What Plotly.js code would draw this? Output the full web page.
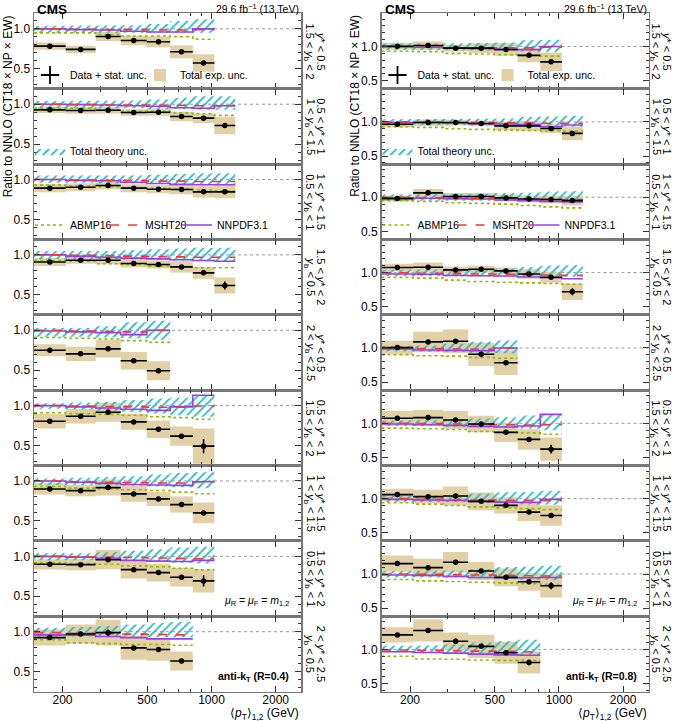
<!DOCTYPE html>
<html><head><meta charset="utf-8">
<script src="https://cdn.plot.ly/plotly-3.0.1.min.js"></script>
<style>html,body{margin:0;padding:0;background:#fff}#plot{width:674px;height:721px}</style>
</head><body><div id="plot"></div>
<script>
// ---------- data ----------
const binEdges = [147, 207, 286, 375, 497, 640, 817, 1032, 1293];
const xTickVals = [200, 500, 1000, 2000];
const xTickText = ['200', '500', '1000', '2000'];
const xMinorVals = [300, 400, 600, 700, 800, 900];
const ystarLabels = ['<i>y</i>* < 0.5', '0.5 < <i>y</i>* < 1', '1 < <i>y</i>* < 1.5', '1.5 < <i>y</i>* < 2',
  '<i>y</i>* < 0.5', '0.5 < <i>y</i>* < 1', '1 < <i>y</i>* < 1.5', '1.5 < <i>y</i>* < 2', '2 < <i>y</i>* < 2.5'];
const ybLabels = ['1.5 < <i>y</i><sub>b</sub> < 2', '1 < <i>y</i><sub>b</sub> < 1.5', '0.5 < <i>y</i><sub>b</sub> < 1', '<i>y</i><sub>b</sub> < 0.5',
  '2 < <i>y</i><sub>b</sub> < 2.5', '1.5 < <i>y</i><sub>b</sub> < 2', '1 < <i>y</i><sub>b</sub> < 1.5', '0.5 < <i>y</i><sub>b</sub> < 1', '<i>y</i><sub>b</sub> < 0.5'];
const legendNames = ['Data + stat. unc.', 'Total exp. unc.', 'Total theory unc.', 'ABMP16', 'MSHT20', 'NNPDF3.1'];

// anti-kT R=0.4 (left column)
const ratioR04 = [
  [0.783, 0.742, 0.904, 0.854, 0.838, 0.712, 0.571],
  [0.929, 0.921, 0.925, 0.896, 0.900, 0.846, 0.825, 0.733],
  [0.892, 0.904, 0.925, 0.892, 0.879, 0.875, 0.846, 0.846],
  [0.912, 0.933, 0.933, 0.892, 0.879, 0.850, 0.775, 0.617],
  [0.750, 0.704, 0.767, 0.617, 0.492],
  [0.804, 0.867, 0.917, 0.796, 0.704, 0.617, 0.492],
  [0.900, 0.879, 0.917, 0.838, 0.775, 0.704, 0.600],
  [0.900, 0.896, 0.958, 0.833, 0.796, 0.738, 0.692],
  [0.926, 0.971, 0.988, 0.797, 0.777, 0.632]
];
const statR04 = [
  [0.005, 0.005, 0.005, 0.006, 0.008, 0.010, 0.015],
  [0.004, 0.004, 0.004, 0.005, 0.006, 0.008, 0.010, 0.020],
  [0.004, 0.004, 0.005, 0.005, 0.006, 0.008, 0.010, 0.015],
  [0.005, 0.005, 0.005, 0.006, 0.008, 0.010, 0.015, 0.050],
  [0.005, 0.006, 0.008, 0.010, 0.015],
  [0.005, 0.005, 0.006, 0.008, 0.010, 0.015, 0.090],
  [0.005, 0.005, 0.006, 0.008, 0.010, 0.015, 0.030],
  [0.005, 0.005, 0.006, 0.008, 0.010, 0.015, 0.070],
  [0.010, 0.010, 0.040, 0.015, 0.015, 0.030]
];
const expR04 = [
  [0.045, 0.045, 0.055, 0.060, 0.070, 0.080, 0.110],
  [0.040, 0.040, 0.040, 0.040, 0.045, 0.060, 0.060, 0.110],
  [0.050, 0.050, 0.050, 0.050, 0.050, 0.060, 0.070, 0.080],
  [0.050, 0.045, 0.050, 0.050, 0.050, 0.070, 0.075, 0.100],
  [0.075, 0.090, 0.110, 0.110, 0.120],
  [0.090, 0.090, 0.120, 0.100, 0.110, 0.120, 0.220],
  [0.070, 0.070, 0.100, 0.100, 0.090, 0.100, 0.130],
  [0.065, 0.070, 0.120, 0.110, 0.110, 0.115, 0.145],
  [0.100, 0.120, 0.160, 0.150, 0.140, 0.120]
];
const thUpR04 = [
  [0.040, 0.040, 0.040, 0.045, 0.060, 0.100, 0.120],
  [0.040, 0.040, 0.040, 0.045, 0.060, 0.080, 0.100, 0.100],
  [0.050, 0.050, 0.050, 0.050, 0.060, 0.070, 0.080, 0.080],
  [0.050, 0.050, 0.050, 0.060, 0.070, 0.080, 0.090, 0.090],
  [0.030, 0.030, 0.050, 0.100, 0.120],
  [0.030, 0.040, 0.050, 0.070, 0.090, 0.100, 0.120],
  [0.030, 0.040, 0.050, 0.060, 0.080, 0.100, 0.110],
  [0.040, 0.040, 0.050, 0.070, 0.090, 0.110, 0.120],
  [0.050, 0.060, 0.070, 0.090, 0.110, 0.120]
];
const thDnR04 = [
  [0.050, 0.050, 0.050, 0.050, 0.050, 0.050, 0.050],
  [0.050, 0.050, 0.050, 0.050, 0.060, 0.060, 0.070, 0.070],
  [0.040, 0.040, 0.050, 0.050, 0.050, 0.060, 0.070, 0.070],
  [0.050, 0.050, 0.050, 0.060, 0.060, 0.070, 0.080, 0.080],
  [0.080, 0.080, 0.090, 0.100, 0.120],
  [0.040, 0.050, 0.060, 0.080, 0.100, 0.120, 0.140],
  [0.050, 0.050, 0.050, 0.060, 0.070, 0.080, 0.090],
  [0.050, 0.050, 0.050, 0.060, 0.070, 0.080, 0.090],
  [0.060, 0.060, 0.060, 0.060, 0.070, 0.070]
];
const abmpR04 = [
  [0.950, 0.950, 0.930, 0.910, 0.910, 0.900, 0.870],
  [0.950, 0.950, 0.930, 0.910, 0.910, 0.890, 0.880, 0.860],
  [0.930, 0.920, 0.910, 0.900, 0.890, 0.880, 0.870, 0.860],
  [0.930, 0.920, 0.890, 0.880, 0.860, 0.850, 0.840, 0.840],
  [0.910, 0.900, 0.890, 0.870, 0.850],
  [0.910, 0.900, 0.890, 0.880, 0.860, 0.850, 0.830],
  [0.930, 0.910, 0.900, 0.890, 0.880, 0.860, 0.840],
  [0.920, 0.910, 0.900, 0.880, 0.870, 0.850, 0.830],
  [0.900, 0.860, 0.850, 0.840, 0.840, 0.830]
];
const mshtR04 = [
  [1.000, 0.995, 0.990, 0.990, 0.985, 0.985, 0.990],
  [1.000, 0.995, 0.990, 0.990, 0.985, 0.985, 0.980, 0.980],
  [1.000, 0.995, 0.990, 0.985, 0.980, 0.980, 0.975, 0.975],
  [1.000, 0.995, 0.990, 0.985, 0.980, 0.975, 0.970, 0.970],
  [1.000, 0.990, 0.985, 0.980, 1.000],
  [1.000, 0.995, 0.990, 0.985, 0.980, 0.980, 0.995],
  [1.000, 0.990, 0.985, 0.980, 0.975, 0.975, 0.990],
  [1.000, 0.995, 0.990, 0.985, 0.980, 0.975, 0.970],
  [0.990, 0.980, 0.975, 0.970, 0.965, 0.960]
];
const nnpdfR04 = [
  [1.000, 0.990, 0.985, 0.970, 0.960, 0.960, 1.000],
  [1.000, 0.995, 0.990, 0.980, 0.975, 0.955, 0.950, 0.980],
  [1.000, 0.990, 0.985, 0.967, 0.950, 0.940, 0.935, 0.935],
  [1.000, 0.985, 0.970, 0.960, 0.950, 0.940, 0.930, 0.920],
  [0.990, 0.980, 0.970, 0.946, 1.000],
  [1.000, 0.985, 0.970, 0.955, 0.940, 0.985, 1.130],
  [1.000, 0.985, 0.970, 0.955, 0.950, 0.945, 0.990],
  [1.000, 0.990, 0.975, 0.950, 0.940, 0.935, 0.950],
  [0.960, 0.955, 0.940, 0.925, 0.910, 0.910]
];

// anti-kT R=0.8 (right column)
const ratioR08 = [
  [1.005, 1.014, 0.976, 0.976, 0.957, 0.871, 0.776],
  [0.966, 0.990, 0.990, 0.976, 0.942, 0.942, 0.904, 0.832],
  [0.980, 1.064, 1.010, 1.010, 0.990, 0.975, 0.966, 0.951],
  [1.074, 1.078, 1.039, 1.049, 1.025, 0.980, 0.931, 0.720],
  [1.005, 1.088, 1.098, 0.907, 0.784],
  [1.074, 1.083, 1.049, 0.990, 0.868, 0.765, 0.623],
  [1.059, 1.029, 1.039, 0.961, 0.902, 0.804, 0.755],
  [1.152, 1.093, 1.172, 1.044, 0.951, 0.887, 0.828],
  [1.211, 1.275, 1.118, 1.044, 0.951, 0.809]
];
const statR08 = [
  [0.005, 0.005, 0.005, 0.006, 0.008, 0.010, 0.015],
  [0.004, 0.004, 0.004, 0.005, 0.006, 0.008, 0.010, 0.020],
  [0.004, 0.004, 0.005, 0.005, 0.006, 0.008, 0.010, 0.015],
  [0.005, 0.005, 0.005, 0.006, 0.008, 0.010, 0.015, 0.050],
  [0.006, 0.008, 0.010, 0.012, 0.015],
  [0.005, 0.005, 0.006, 0.008, 0.010, 0.015, 0.065],
  [0.005, 0.005, 0.006, 0.008, 0.010, 0.015, 0.030],
  [0.006, 0.006, 0.008, 0.010, 0.012, 0.015, 0.050],
  [0.010, 0.010, 0.040, 0.015, 0.015, 0.040]
];
const expR08 = [
  [0.050, 0.060, 0.050, 0.070, 0.090, 0.100, 0.135],
  [0.045, 0.045, 0.040, 0.040, 0.060, 0.070, 0.070, 0.100],
  [0.040, 0.055, 0.050, 0.050, 0.050, 0.050, 0.055, 0.070],
  [0.055, 0.070, 0.050, 0.050, 0.050, 0.070, 0.080, 0.120],
  [0.100, 0.150, 0.170, 0.170, 0.180],
  [0.110, 0.110, 0.130, 0.120, 0.140, 0.150, 0.170],
  [0.085, 0.100, 0.140, 0.130, 0.120, 0.130, 0.150],
  [0.120, 0.130, 0.150, 0.130, 0.130, 0.130, 0.170],
  [0.110, 0.160, 0.130, 0.170, 0.160, 0.160]
];
const thUpR08 = [
  [0.040, 0.040, 0.040, 0.050, 0.060, 0.090, 0.100],
  [0.040, 0.040, 0.040, 0.040, 0.050, 0.070, 0.080, 0.090],
  [0.040, 0.040, 0.040, 0.050, 0.060, 0.070, 0.080, 0.090],
  [0.040, 0.040, 0.040, 0.050, 0.060, 0.080, 0.100, 0.110],
  [0.030, 0.040, 0.060, 0.090, 0.110],
  [0.040, 0.040, 0.050, 0.070, 0.090, 0.110, 0.120],
  [0.040, 0.040, 0.050, 0.070, 0.090, 0.100, 0.110],
  [0.040, 0.040, 0.050, 0.070, 0.100, 0.110, 0.120],
  [0.050, 0.060, 0.070, 0.100, 0.120, 0.140]
];
const thDnR08 = [
  [0.050, 0.050, 0.050, 0.050, 0.060, 0.070, 0.080],
  [0.050, 0.050, 0.050, 0.050, 0.060, 0.060, 0.070, 0.070],
  [0.050, 0.050, 0.050, 0.050, 0.050, 0.060, 0.060, 0.070],
  [0.050, 0.050, 0.050, 0.050, 0.050, 0.050, 0.050, 0.060],
  [0.050, 0.050, 0.060, 0.070, 0.080],
  [0.040, 0.040, 0.050, 0.060, 0.070, 0.080, 0.100],
  [0.050, 0.050, 0.050, 0.060, 0.070, 0.080, 0.090],
  [0.050, 0.050, 0.050, 0.060, 0.070, 0.080, 0.090],
  [0.040, 0.050, 0.060, 0.070, 0.080, 0.090]
];
const abmpR08 = [
  [0.930, 0.925, 0.900, 0.890, 0.880, 0.870, 0.860],
  [0.930, 0.920, 0.900, 0.890, 0.880, 0.875, 0.870, 0.865],
  [0.950, 0.940, 0.920, 0.910, 0.900, 0.880, 0.860, 0.845],
  [0.930, 0.920, 0.890, 0.870, 0.860, 0.850, 0.840, 0.830],
  [0.900, 0.885, 0.880, 0.860, 0.850],
  [0.930, 0.920, 0.910, 0.880, 0.870, 0.860, 0.840],
  [0.940, 0.920, 0.900, 0.880, 0.865, 0.855, 0.840],
  [0.920, 0.900, 0.890, 0.880, 0.870, 0.860, 0.850],
  [0.900, 0.860, 0.855, 0.845, 0.840, 0.840]
];
const mshtR08 = [
  [1.000, 0.990, 0.985, 0.980, 0.980, 0.980, 0.990],
  [1.000, 0.995, 0.990, 0.990, 0.985, 0.985, 0.980, 0.980],
  [1.000, 0.995, 0.990, 0.985, 0.980, 0.975, 0.970, 0.965],
  [1.000, 0.990, 0.985, 0.980, 0.975, 0.970, 0.965, 0.960],
  [1.000, 0.990, 0.985, 0.980, 1.000],
  [1.000, 0.995, 0.990, 0.985, 0.980, 0.975, 0.980],
  [1.000, 0.990, 0.985, 0.980, 0.975, 0.975, 0.975],
  [1.000, 0.995, 0.990, 0.985, 0.980, 0.975, 0.970],
  [0.990, 0.985, 0.980, 0.975, 0.970, 0.965]
];
const nnpdfR08 = [
  [0.995, 0.990, 0.980, 0.970, 0.955, 0.955, 1.000],
  [0.990, 0.990, 0.985, 0.975, 0.970, 0.960, 0.930, 0.955],
  [0.990, 0.985, 0.980, 0.975, 0.960, 0.950, 0.940, 0.930],
  [0.980, 0.975, 0.960, 0.955, 0.950, 0.935, 0.925, 0.910],
  [0.985, 0.970, 0.965, 0.960, 1.000],
  [0.990, 0.980, 0.970, 0.955, 0.945, 0.960, 1.130],
  [0.990, 0.980, 0.975, 0.960, 0.950, 0.945, 0.990],
  [0.985, 0.980, 0.965, 0.950, 0.945, 0.945, 0.950],
  [0.965, 0.955, 0.945, 0.930, 0.920, 0.915]
];

// ---------- styling / layout ----------
const W = 674, H = 721, TOP = 13.3, BOT = 691.5, PH = (BOT - TOP) / 9;
const FONT = 'Liberation Sans, Arial, Helvetica, sans-serif';
const TAN = '#e2d0a6', CYAN = '#22b8c8', GREEN = '#8fba00', RED = '#ff3333', PURPLE = '#9a3df0';
const columns = [
  {x0: 34, x1: 301, yr: [0.25, 1.195], ratio: ratioR04, stat: statR04, exp: expR04, up: thUpR04, dn: thDnR04,
   abmp: abmpR04, msht: mshtR04, nnpdf: nnpdfR04, jet: '<b>anti-k<sub>T</sub> (R=0.4)</b>', lab1: 20, lab2: 8.5},
  {x0: 381.5, x1: 648.5, yr: [0.385, 1.485], ratio: ratioR08, stat: statR08, exp: expR08, up: thUpR08, dn: thDnR08,
   abmp: abmpR08, msht: mshtR08, nnpdf: nnpdfR08, jet: '<b>anti-k<sub>T</sub> (R=0.8)</b>', lab1: 18.5, lab2: 7}
];
// legend entry text positions relative to the panel's left edge (px) and row centre (px)
const legendSlots = [[36, 75], [146, 75], [36, 151], [36, 225], [111, 225], [183, 225]];

const traces = [];
const layout = {
  width: W, height: H, margin: {l: 0, r: 0, t: 0, b: 0, autoexpand: false},
  paper_bgcolor: '#fff', plot_bgcolor: '#fff', showlegend: true,
  font: {family: FONT, color: '#000', size: 12},
  annotations: [], shapes: []
};

function stepXY(vals) {
  const n = vals.length;
  return {x: binEdges.slice(0, n + 1), y: vals.concat([vals[n - 1]])};
}

columns.forEach((col, c) => {
  for (let r = 0; r < 9; r++) {
    const idx = c * 9 + r + 1;
    const xs = 'x' + idx, ys = 'y' + idx;
    const xk = 'xaxis' + (idx === 1 ? '' : idx), yk = 'yaxis' + (idx === 1 ? '' : idx);
    const yTopPx = TOP + PH * r, yBotPx = TOP + PH * (r + 1);
    layout[xk] = {
      type: 'log', range: [Math.log10(147), Math.log10(2630)], domain: [col.x0 / W, col.x1 / W], anchor: ys,
      tickmode: 'array', tickvals: xTickVals, ticktext: xTickText, showticklabels: r === 8,
      ticks: 'inside', ticklen: 6, tickcolor: '#333', tickwidth: 1, ticklabelstandoff: -3,
      minor: {tickmode: 'array', tickvals: xMinorVals, ticks: 'inside', ticklen: 3, tickcolor: '#333'},
      showline: true, linecolor: '#777', linewidth: 1.5, mirror: 'allticks',
      showgrid: false, zeroline: false, tickfont: {size: 12, family: FONT}, fixedrange: true
    };
    layout[yk] = {
      range: col.yr, domain: [1 - yBotPx / H, 1 - yTopPx / H], anchor: xs,
      tickmode: 'linear', tick0: 0, dtick: 0.5, tickformat: '.1f',
      ticks: 'inside', ticklen: 6, tickcolor: '#333',
      minor: {dtick: 0.1, ticks: 'inside', ticklen: 3, tickcolor: '#333'},
      showline: true, linecolor: '#777', linewidth: 1.5, mirror: 'allticks',
      showgrid: false, zeroline: false, tickfont: {size: 12, family: FONT}, fixedrange: true
    };
    // reference line at 1
    layout.shapes.push({type: 'line', xref: xs + ' domain', yref: ys, x0: 0, x1: 1, y0: 1, y1: 1,
      line: {color: '#999', width: 1, dash: 'dot'}, layer: 'below'});

    const vals = col.ratio[r], n = vals.length;
    // total exp. unc. boxes
    const bx = [], by = [];
    for (let i = 0; i < n; i++) {
      const lo = binEdges[i], hi = binEdges[i + 1], e = col.exp[r][i];
      bx.push(lo, hi, hi, lo, lo, null);
      by.push(vals[i] - e, vals[i] - e, vals[i] + e, vals[i] + e, vals[i] - e, null);
    }
    traces.push({x: bx, y: by, xaxis: xs, yaxis: ys, type: 'scatter', mode: 'lines', fill: 'toself',
      fillcolor: TAN, line: {width: 0}, showlegend: false, hoverinfo: 'skip'});
    // theory band (hatched)
    const tx = [], ty = [];
    for (let i = 0; i < n; i++) { tx.push(binEdges[i], binEdges[i + 1]); ty.push(1 + col.up[r][i], 1 + col.up[r][i]); }
    for (let i = n - 1; i >= 0; i--) { tx.push(binEdges[i + 1], binEdges[i]); ty.push(1 - col.dn[r][i], 1 - col.dn[r][i]); }
    traces.push({x: tx, y: ty, xaxis: xs, yaxis: ys, type: 'scatter', mode: 'lines', fill: 'toself',
      fillcolor: 'rgba(0,0,0,0)', fillpattern: {shape: '/', fgcolor: CYAN, bgcolor: 'rgba(0,0,0,0)', size: 6, solidity: 0.3},
      line: {width: 0}, showlegend: false, hoverinfo: 'skip'});
    // PDF alternatives
    const a = stepXY(col.abmp[r]), m = stepXY(col.msht[r]), p = stepXY(col.nnpdf[r]);
    traces.push({x: a.x, y: a.y, xaxis: xs, yaxis: ys, mode: 'lines', line: {shape: 'hv', color: GREEN, width: 1.6, dash: 'dot'}, showlegend: false, hoverinfo: 'skip'});
    traces.push({x: p.x, y: p.y, xaxis: xs, yaxis: ys, mode: 'lines', line: {shape: 'hv', color: PURPLE, width: 1.6}, showlegend: false, hoverinfo: 'skip'});
    traces.push({x: m.x, y: m.y, xaxis: xs, yaxis: ys, mode: 'lines', line: {shape: 'hv', color: RED, width: 1.6, dash: 'dash'}, showlegend: false, hoverinfo: 'skip'});
    // data
    const cx = [], ep = [], em = [];
    for (let i = 0; i < n; i++) {
      const lo = binEdges[i], hi = binEdges[i + 1], ctr = Math.sqrt(lo * hi);
      cx.push(ctr); ep.push(hi - ctr); em.push(ctr - lo);
    }
    traces.push({x: cx, y: vals, xaxis: xs, yaxis: ys, mode: 'markers', marker: {color: '#000', size: 5.5},
      error_x: {type: 'data', symmetric: false, array: ep, arrayminus: em, width: 0, thickness: 1.6, color: '#000'},
      error_y: {type: 'data', array: col.stat[r], width: 0, thickness: 1.6, color: '#000'},
      showlegend: false, hoverinfo: 'skip'});

    // side labels (two rotated lines)
    const yc = 1 - (yTopPx + PH / 2) / H;
    layout.annotations.push({xref: 'paper', yref: 'paper', x: (col.x1 + col.lab1) / W, y: yc,
      text: ystarLabels[r], textangle: 90, showarrow: false, xanchor: 'center', yanchor: 'middle', font: {size: 11, family: FONT}});
    layout.annotations.push({xref: 'paper', yref: 'paper', x: (col.x1 + col.lab2) / W, y: yc,
      text: ybLabels[r], textangle: 90, showarrow: false, xanchor: 'center', yanchor: 'middle', font: {size: 11, family: FONT}});
  }
  // legends: one dummy entry per legend box
  const ax1 = 'x' + (c * 9 + 1), ay1 = 'y' + (c * 9 + 1);
  const entryStyles = [
    {mode: 'markers', marker: {symbol: 'cross-thin', size: 13, color: '#000', line: {width: 1.8, color: '#000'}}},
    {mode: 'markers', marker: {symbol: 'square', size: 12, color: TAN, line: {width: 0}}},
    {mode: 'lines', fill: 'toself', fillcolor: 'rgba(0,0,0,0)', fillpattern: {shape: '/', fgcolor: CYAN, bgcolor: 'rgba(0,0,0,0)', size: 6, solidity: 0.3}, line: {width: 0}},
    {mode: 'lines', line: {color: GREEN, width: 1.6, dash: 'dot'}},
    {mode: 'lines', line: {color: RED, width: 1.6, dash: 'dash'}},
    {mode: 'lines', line: {color: PURPLE, width: 1.6}}
  ];
  legendNames.forEach((nm, k) => {
    const L = c * 6 + k + 1;
    const lname = 'legend' + (L === 1 ? '' : L);
    traces.push(Object.assign({x: [null], y: [null], xaxis: ax1, yaxis: ay1, name: nm, legend: lname, showlegend: true}, entryStyles[k]));
    layout[lname] = {orientation: 'h', bgcolor: 'rgba(0,0,0,0)', borderwidth: 0, xref: 'paper', yref: 'paper',
      xanchor: 'left', yanchor: 'middle', x: (col.x0 + legendSlots[k][0] - 40) / W, y: 1 - legendSlots[k][1] / H,
      font: {size: 10.5, family: FONT}, itemclick: false, itemdoubleclick: false, itemwidth: 30};
  });

  // header texts
  layout.annotations.push({xref: 'paper', yref: 'paper', x: (col.x0 + 1) / W, y: 1, xanchor: 'left', yanchor: 'top',
    text: '<b>CMS</b>', showarrow: false, font: {size: 13.5, family: FONT}});
  layout.annotations.push({xref: 'paper', yref: 'paper', x: col.x1 / W, y: 1, xanchor: 'right', yanchor: 'top',
    text: '29.6 fb<sup>−1</sup> (13 TeV)', showarrow: false, font: {size: 10.5, family: FONT}});
  // axis titles
  layout.annotations.push({xref: 'paper', yref: 'paper', x: (col.x0 - 26) / W, y: 1 - TOP / H, xanchor: 'center', yanchor: 'top',
    text: 'Ratio to NNLO (CT18 × NP × EW)', textangle: -90, showarrow: false, font: {size: 12, family: FONT}});
  layout.annotations.push({xref: 'paper', yref: 'paper', x: col.x1 / W, y: 1 - 714 / H, xanchor: 'right', yanchor: 'middle',
    text: '⟨<i>p</i><sub>T</sub>⟩<sub>1,2</sub> (GeV)', showarrow: false, font: {size: 12, family: FONT}});
  // scale and jet labels
  layout.annotations.push({xref: 'paper', yref: 'paper', x: (col.x1 - 10) / W, y: 1 - 601 / H, xanchor: 'right', yanchor: 'middle',
    text: '<i>μ</i><sub>R</sub> = <i>μ</i><sub>F</sub> = <i>m</i><sub>1,2</sub>', showarrow: false, font: {size: 10.5, family: FONT}});
  layout.annotations.push({xref: 'paper', yref: 'paper', x: (col.x1 - 10) / W, y: 1 - 677 / H, xanchor: 'right', yanchor: 'middle',
    text: col.jet, showarrow: false, font: {size: 10.5, family: FONT}});
});

Plotly.newPlot('plot', traces, layout, {staticPlot: true, displayModeBar: false});
</script>
</body></html>
